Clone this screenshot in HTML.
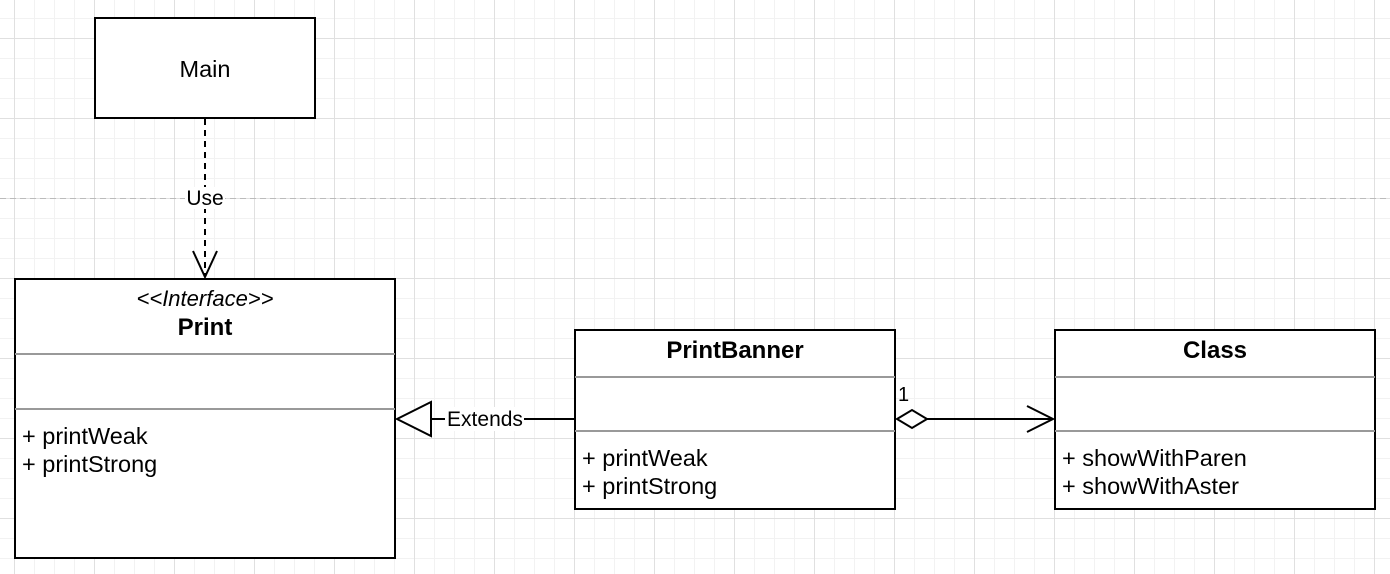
<!DOCTYPE html>
<html><head><meta charset="utf-8"><style>
html,body{margin:0;padding:0;background:#fff;}
svg{display:block;font-family:"Liberation Sans",Arial,sans-serif;}
</style></head><body>
<svg width="1390" height="574" viewBox="0 0 1390 574" xmlns="http://www.w3.org/2000/svg">
<defs>
<pattern id="minor" x="14" y="18" width="20" height="20" patternUnits="userSpaceOnUse">
<path d="M0.5 0V20M0 0.5H20" stroke="#f2f2f2" stroke-width="1" fill="none"/>
</pattern>
<pattern id="major" x="14" y="38" width="80" height="80" patternUnits="userSpaceOnUse">
<path d="M0.5 0V80M0 0.5H80" stroke="#e0e0e0" stroke-width="1" fill="none"/>
</pattern>
</defs>
<rect width="1390" height="574" fill="#fff"/>
<rect width="1390" height="574" fill="url(#minor)"/>
<rect width="1390" height="574" fill="url(#major)"/>
<line x1="0" y1="198.5" x2="1390" y2="198.5" stroke="#bbb" stroke-dasharray="6,4"/>

<!-- Main -->
<rect x="95" y="18" width="220" height="100" fill="#fff" stroke="#000" stroke-width="2"/>
<text x="205" y="77" font-size="23.5" text-anchor="middle">Main</text>

<!-- Use -->
<line x1="205" y1="119" x2="205" y2="277" stroke="#000" stroke-width="2" stroke-dasharray="6,5"/>
<rect x="185" y="187" width="40" height="22" fill="#fff"/>
<text x="205" y="205" font-size="21" text-anchor="middle">Use</text>
<path d="M193 251L205 277L217 251" fill="none" stroke="#000" stroke-width="2"/>

<!-- Print -->
<rect x="15" y="279" width="380" height="279" fill="#fff" stroke="#000" stroke-width="2"/>
<line x1="15" y1="354" x2="395" y2="354" stroke="#999" stroke-width="2"/>
<line x1="15" y1="409" x2="395" y2="409" stroke="#999" stroke-width="2"/>
<text x="205" y="306" font-size="22" font-style="italic" text-anchor="middle">&lt;&lt;Interface&gt;&gt;</text>
<text x="205" y="335" font-size="24" font-weight="bold" text-anchor="middle">Print</text>
<text x="22" y="444" font-size="23.5">+ printWeak</text>
<text x="22" y="472" font-size="23.5">+ printStrong</text>

<!-- PrintBanner -->
<rect x="575" y="330" width="320" height="179" fill="#fff" stroke="#000" stroke-width="2"/>
<line x1="575" y1="377" x2="895" y2="377" stroke="#999" stroke-width="2"/>
<line x1="575" y1="431" x2="895" y2="431" stroke="#999" stroke-width="2"/>
<text x="735" y="358" font-size="24" font-weight="bold" text-anchor="middle">PrintBanner</text>
<text x="582" y="466" font-size="23.5">+ printWeak</text>
<text x="582" y="494" font-size="23.5">+ printStrong</text>

<!-- Class -->
<rect x="1055" y="330" width="320" height="179" fill="#fff" stroke="#000" stroke-width="2"/>
<line x1="1055" y1="377" x2="1375" y2="377" stroke="#999" stroke-width="2"/>
<line x1="1055" y1="431" x2="1375" y2="431" stroke="#999" stroke-width="2"/>
<text x="1215" y="358" font-size="24" font-weight="bold" text-anchor="middle">Class</text>
<text x="1062" y="466" font-size="23.5">+ showWithParen</text>
<text x="1062" y="494" font-size="23.5">+ showWithAster</text>

<!-- Extends -->
<line x1="431" y1="419" x2="574" y2="419" stroke="#000" stroke-width="2"/>
<path d="M397 419L431 402L431 436Z" fill="#fff" stroke="#000" stroke-width="2"/>
<rect x="445" y="407" width="79" height="24" fill="#fff"/>
<text x="485" y="426" font-size="21" text-anchor="middle">Extends</text>

<!-- Aggregation -->
<line x1="927" y1="419" x2="1053" y2="419" stroke="#000" stroke-width="2"/>
<path d="M897 419L912 410L927 419L912 428Z" fill="#fff" stroke="#000" stroke-width="2"/>
<path d="M1027 406L1053 419L1027 432" fill="none" stroke="#000" stroke-width="2"/>
<text x="898" y="401" font-size="20">1</text>
</svg>
</body></html>
